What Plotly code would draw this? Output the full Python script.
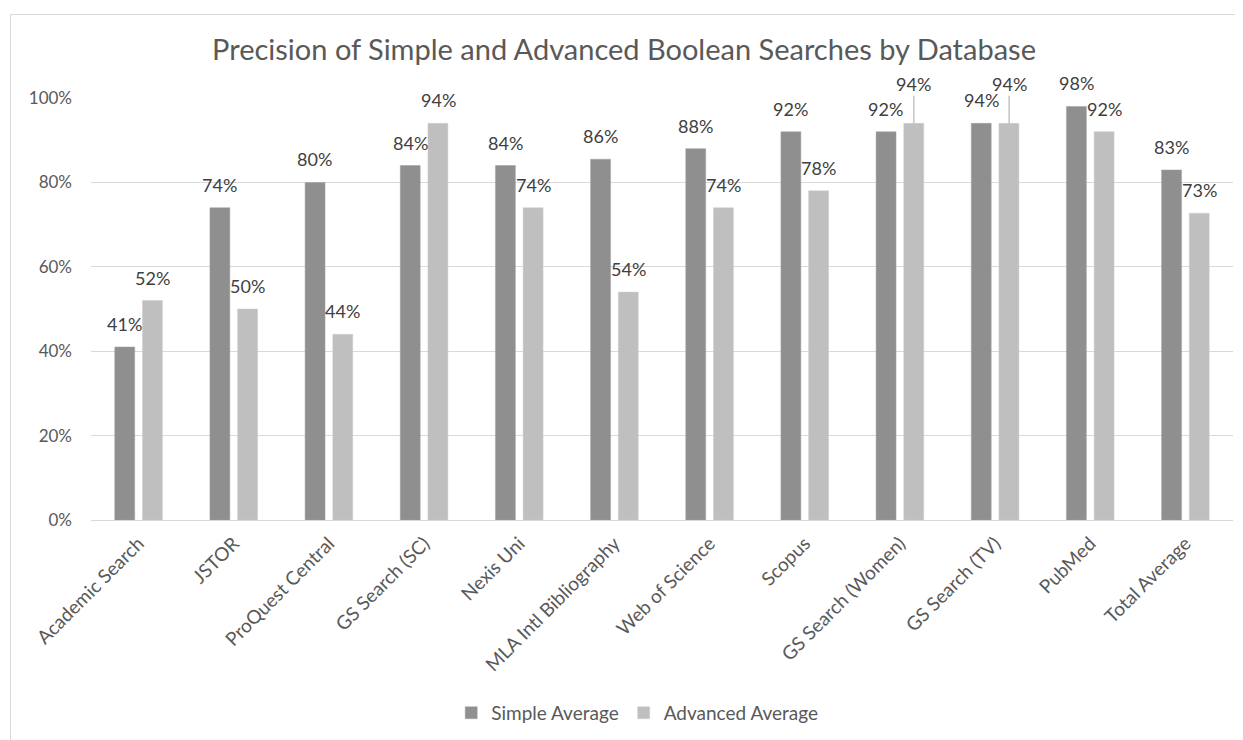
import plotly.graph_objects as go

categories = ["Academic Search", "JSTOR", "ProQuest Central", "GS Search (SC)", "Nexis Uni",
              "MLA Intl Bibliography", "Web of Science", "Scopus", "GS Search (Women)",
              "GS Search (TV)", "PubMed", "Total Average"]
simple_avg = [41, 74, 80, 84, 84, 85.5, 88, 92, 92, 94, 98, 82.95]
advanced_avg = [52, 50, 44, 94, 74, 54, 74, 78, 94, 94, 92, 72.7]
y_ticks = [0, 20, 40, 60, 80, 100]
y_tick_labels = ["0%", "20%", "40%", "60%", "80%", "100%"]
title_text = "Precision of Simple and Advanced Boolean Searches by Database"

# labels that Excel lifted with a leader line (series, category)
leader_labels = {("adv", "GS Search (Women)"), ("adv", "GS Search (TV)")}

FONT = "Lato"
DARK = "#8f8f8f"
LIGHT = "#bfbfbf"
TXT = "#595959"
LBL = "#404040"

W, H = 1243, 740
L, T, R, B = 83, 90, 18, 228
PW, PH = W - L - R, H - T - B

fig = go.Figure()
fig.add_trace(go.Bar(name="Simple Average", x=categories, y=simple_avg,
                     marker=dict(color=DARK, line=dict(color="#a0a0a0", width=0.5))))
fig.add_trace(go.Bar(name="Advanced Average", x=categories, y=advanced_avg,
                     marker=dict(color=LIGHT, line=dict(color="#cccccc", width=0.5))))

annotations = []
for key, vals, shift in (("simple", simple_avg, -14), ("adv", advanced_avg, 14)):
    for c, v in zip(categories, vals):
        txt = f"{v:.0f}%"
        if (key, c) in leader_labels:
            annotations.append(dict(x=c, y=v, xref="x", yref="y", text=txt, xshift=shift,
                                    showarrow=True, arrowhead=0, arrowwidth=1, arrowcolor="#a6a6a6",
                                    ax=0, ay=-39, standoff=0, borderpad=0,
                                    font=dict(family=FONT, size=18, color=LBL)))
        else:
            annotations.append(dict(x=c, y=v, xref="x", yref="y", text=txt, xshift=shift,
                                    yshift=23, yanchor="middle", showarrow=False,
                                    font=dict(family=FONT, size=18, color=LBL)))

bx = (2.5 - L) / PW
by = (T + PH - 6.5) / PH

fig.update_layout(
    width=W, height=H,
    margin=dict(l=L, r=R, t=T, b=B),
    paper_bgcolor="white", plot_bgcolor="white",
    font=dict(family=FONT, size=17, color=TXT),
    title=dict(text=title_text, x=0.4956, xref="container", xanchor="center",
               y=1 - 42 / H, yref="container", yanchor="middle",
               font=dict(family=FONT, size=29, color=TXT)),
    barmode="group", bargap=0.418, bargroupgap=0.28,
    xaxis=dict(type="category", tickangle=-45, showline=True, linecolor="#d9d9d9", linewidth=1,
               showgrid=False, ticks="", tickfont=dict(family=FONT, size=19, color=TXT),
               ticklabelstandoff=4),
    yaxis=dict(range=[0, 100], tickvals=y_ticks, ticktext=y_tick_labels, showgrid=True,
               gridcolor="#d9d9d9", gridwidth=1, zeroline=False, showline=False, ticks="",
               tickfont=dict(family=FONT, size=17, color=TXT), ticklabelstandoff=18),
    legend=dict(orientation="h", x=0.4783, xanchor="center", y=-0.457, yanchor="middle",
                font=dict(family=FONT, size=19, color=TXT), itemwidth=30),
    annotations=annotations,
    shapes=[
        dict(type="line", xref="paper", yref="paper", x0=bx, x1=1.2, y0=by, y1=by,
             line=dict(color="#d9d9d9", width=1)),
        dict(type="line", xref="paper", yref="paper", x0=bx, x1=bx, y0=by, y1=-1,
             line=dict(color="#d9d9d9", width=1)),
    ],
)

fig.write_html("out.html")
